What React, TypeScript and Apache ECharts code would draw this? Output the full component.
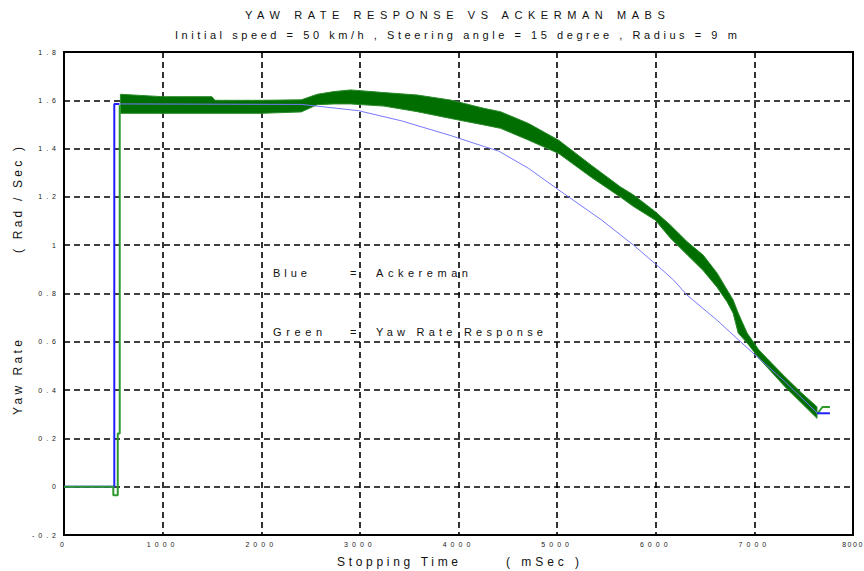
import React, { useEffect, useRef } from "react";
import * as echarts from "echarts";

// ---- data ----
const TITLE = "YAW RATE RESPONSE VS ACKERMAN MABS";
const SUBTITLE = "Initial speed = 50 km/h , Steering angle = 15 degree , Radius = 9 m";

const xMin = 0;
const xMax = 8000;
const xStep = 1000;
const yMin = -0.2;
const yMax = 1.8;
const yStep = 0.2;

// Green (yaw rate response): step at start
const greenStepT = [0, 500, 500, 545, 545, 565, 565];
const greenStepV = [0, 0, -0.035, -0.035, 0.22, 0.22, 1.58];
// Green noisy band: upper / lower envelope
const greenBandT = [572, 1000, 1500, 1530, 2000, 2406, 2569, 2737, 2906, 3244, 3581, 3919, 4256, 4425, 4711, 5015, 5350, 5640, 5775, 5995, 6147, 6319, 6481, 6623, 6724, 6785, 6836, 6927, 7046, 7310, 7482, 7635];
const greenUpper = [1.625, 1.615, 1.615, 1.6, 1.6, 1.602, 1.625, 1.636, 1.643, 1.632, 1.622, 1.601, 1.567, 1.553, 1.504, 1.435, 1.33, 1.242, 1.208, 1.139, 1.084, 1.014, 0.959, 0.884, 0.815, 0.773, 0.719, 0.636, 0.566, 0.455, 0.387, 0.331];
const greenLower = [1.546, 1.546, 1.546, 1.546, 1.546, 1.552, 1.582, 1.585, 1.585, 1.576, 1.553, 1.525, 1.498, 1.484, 1.435, 1.38, 1.28, 1.2, 1.16, 1.104, 1.03, 0.96, 0.895, 0.825, 0.765, 0.718, 0.636, 0.595, 0.532, 0.414, 0.345, 0.283];
const greenTailT = [7635, 7690, 7766];
const greenTailV = [0.3, 0.33, 0.33];

// Blue (Ackerman)
const blueRiseT = [0, 510, 510, 560];
const blueRiseV = [0, 0, 1.585, 1.585];
const blueCurveT = [560, 2406, 2985, 3421, 3929, 4264, 4406, 4711, 5015, 5452, 5775, 6030, 6180, 6316, 6620, 6873, 7310, 7635];
const blueCurveV = [1.585, 1.583, 1.557, 1.515, 1.453, 1.408, 1.39, 1.318, 1.229, 1.104, 1.0, 0.911, 0.856, 0.794, 0.69, 0.595, 0.435, 0.306];
const blueTailT = [7635, 7766];
const blueTailV = [0.304, 0.304];

const FONT = "'Liberation Sans', Arial, sans-serif";

const pairs = (t: number[], v: number[]) => t.map((x, i) => [x, v[i]]);

export default function App() {
  const ref = useRef<HTMLDivElement>(null);

  useEffect(() => {
    const el = ref.current!;
    const chart = echarts.init(el, null, { renderer: "svg" });

    const txt = (text: string, x: number, y: number, size: number, extra: any = {}) => ({
      type: "text",
      x,
      y,
      silent: true,
      ...extra,
      style: {
        text,
        fill: "#111",
        fontSize: size,
        fontFamily: FONT,
        textAlign: "left",
        textVerticalAlign: "middle",
      },
    });

    const lineSeries = (data: number[][], color: string, width: number, extra: any = {}) => ({
      type: "line",
      data,
      showSymbol: false,
      symbol: "none",
      silent: true,
      lineStyle: { color, width },
      itemStyle: { color },
      ...extra,
    });

    const bandSeries = {
      type: "custom",
      silent: true,
      clip: true,
      data: [[greenBandT[0], greenUpper[0]]],
      encode: { x: 0, y: 1 },
      renderItem: (_params: any, api: any) => {
        const pts: number[][] = [];
        for (let i = 0; i < greenBandT.length; i++) pts.push(api.coord([greenBandT[i], greenUpper[i]]));
        for (let i = greenBandT.length - 1; i >= 0; i--) pts.push(api.coord([greenBandT[i], greenLower[i]]));
        return {
          type: "polygon",
          shape: { points: pts },
          style: { fill: "#006e00", stroke: "#2a8a2a", lineWidth: 1 },
        };
      },
    };

    const option: any = {
      animation: false,
      backgroundColor: "#ffffff",
      grid: {
        left: 64,
        right: 11,
        top: 52,
        bottom: 36,
        show: true,
        borderColor: "#000",
        borderWidth: 2,
        outerBoundsMode: "none",
      },
      xAxis: {
        type: "value",
        min: xMin,
        max: xMax,
        interval: xStep,
        axisLine: { show: false },
        axisTick: { show: false },
        splitLine: { show: true, lineStyle: { color: "#000", width: 1.6, type: [6, 4] } },
        axisLabel: { fontSize: 7, color: "#222", fontFamily: FONT, margin: 6, formatter: (v: number) => String(v) },
      },
      yAxis: {
        type: "value",
        min: yMin,
        max: yMax,
        interval: yStep,
        axisLine: { show: false },
        axisTick: { show: false },
        splitLine: { show: true, lineStyle: { color: "#000", width: 1.6, type: [6, 4] } },
        axisLabel: {
          fontSize: 7,
          color: "#222",
          fontFamily: FONT,
          margin: 4,
          formatter: (v: number) => String(Math.round(v * 10) / 10),
        },
      },
      series: [
        lineSeries(pairs(blueCurveT, blueCurveV), "#7878ff", 1),
        lineSeries(pairs(blueRiseT, blueRiseV), "#1f1fff", 2),
        bandSeries,
        lineSeries(pairs(greenStepT, greenStepV), "#2e9a2e", 2),
        lineSeries(pairs(greenTailT, greenTailV), "#2e9a2e", 2),
        lineSeries(pairs(blueTailT, blueTailV), "#1f1fff", 2),
      ],
      graphic: [
        txt(TITLE, 245, 15, 11),
        txt(SUBTITLE, 175, 35, 11),
        txt("Blue", 273, 273, 11),
        txt("=", 350, 273, 11),
        txt("Ackereman", 376, 273, 11),
        txt("Green", 273, 332, 11),
        txt("=", 350, 332, 11),
        txt("Yaw Rate Response", 376, 332, 11),
        txt("Stopping Time", 337, 562, 12),
        txt("( mSec )", 506, 562, 12),
        txt("( Rad / Sec )", 18, 253, 12, { rotation: Math.PI / 2 }),
        txt("Yaw Rate", 18, 415, 12, { rotation: Math.PI / 2 }),
      ],
    };

    chart.setOption(option);

    const targets: Record<string, number> = {
      [TITLE]: 420,
      [SUBTITLE]: 562,
      Blue: 34,
      Ackereman: 92,
      Green: 49,
      "Yaw Rate Response": 167,
      "Stopping Time": 121,
      "( mSec )": 73,
      "( Rad / Sec )": 106,
      "Yaw Rate": 75,
    };
    const applySpacing = () => {
      el.querySelectorAll("text").forEach((t: any) => {
        const s = (t.textContent || "").trim();
        if (!s || s === "=") return;
        if (targets[s] !== undefined) {
          t.setAttribute("letter-spacing", "0");
          const nat = t.getComputedTextLength();
          const n = s.length;
          if (n > 1) {
            const sp = Math.max(0, (targets[s] - nat) / (n - 1));
            t.setAttribute("letter-spacing", sp.toFixed(2) + "px");
          }
        } else if (s === "8000") {
          t.setAttribute("letter-spacing", "1.5px");
        } else {
          t.setAttribute("letter-spacing", "4px");
        }
      });
    };
    applySpacing();
    const raf = requestAnimationFrame(applySpacing);

    return () => {
      cancelAnimationFrame(raf);
      chart.dispose();
    };
  }, []);

  return (
    <div
      ref={ref}
      style={{ position: "fixed", left: 0, top: 0, width: 864, height: 571, background: "#fff" }}
    />
  );
}
